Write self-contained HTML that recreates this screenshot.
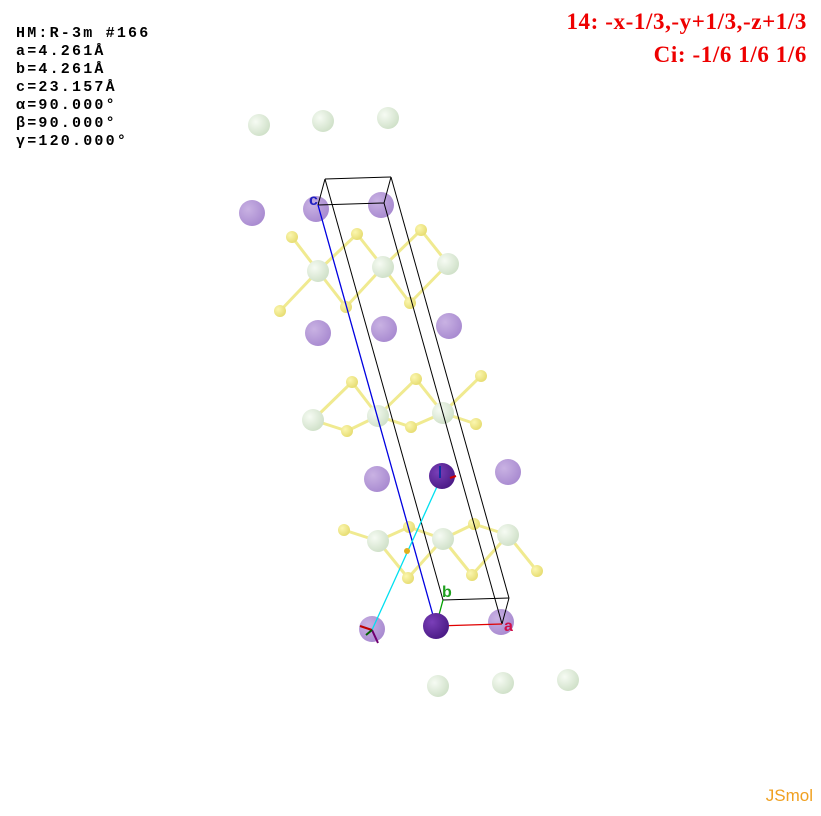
<!DOCTYPE html>
<html><head><meta charset="utf-8"><style>
html,body{margin:0;padding:0;background:#fff;}
#wrap{position:relative;width:821px;height:816px;overflow:hidden;background:#fff;}
.info{position:absolute;left:16px;top:25px;font-family:"Liberation Mono",monospace;font-weight:bold;font-size:15px;letter-spacing:2.2px;line-height:18px;color:#000;}
.sym{position:absolute;right:14px;font-family:"Liberation Serif",serif;font-weight:bold;font-size:23px;letter-spacing:0.6px;color:#e00;text-align:right;}
.jsmol{position:absolute;right:8px;bottom:10px;font-family:"Liberation Sans",sans-serif;font-size:17px;color:#f0a020;}
svg{position:absolute;left:0;top:0;}
</style></head><body>
<div id="wrap">
<div class="info">HM:R-3m #166<br>a=4.261Å<br>b=4.261Å<br>c=23.157Å<br>α=90.000°<br>β=90.000°<br>γ=120.000°</div>
<div class="sym" style="top:9px">14: -x-1/3,-y+1/3,-z+1/3</div>
<div class="sym" style="top:42px">Ci: -1/6 1/6 1/6</div>
<div class="jsmol">JSmol</div>
<svg id="s" width="821" height="816">
<defs>
<radialGradient id="gG" cx="0.35" cy="0.35" r="0.7"><stop offset="0" stop-color="#f6fbf3"/><stop offset="1" stop-color="#cfe0c8"/></radialGradient>
<radialGradient id="gP" cx="0.35" cy="0.35" r="0.7"><stop offset="0" stop-color="#c9b2e3"/><stop offset="1" stop-color="#a88ad0"/></radialGradient>
<radialGradient id="gD" cx="0.35" cy="0.35" r="0.7"><stop offset="0" stop-color="#7a3fb8"/><stop offset="1" stop-color="#4a1a85"/></radialGradient>
<radialGradient id="gY" cx="0.35" cy="0.35" r="0.7"><stop offset="0" stop-color="#fbf6b0"/><stop offset="1" stop-color="#e6dc70"/></radialGradient>
</defs>
</svg>
</div>
<script>
const greenAtoms=[[259,125],[323,121],[388,118],[318,271],[383,267],[448,264],[313,420],[378,416],[443,413],[378,541],[443,539],[508,535],[438,686],[503,683],[568,680]];
const purpleAtoms=[[252,213],[316,209],[381,205],[318,333],[384,329],[449,326],[377,479],[508,472],[372,629],[501,622]];
const darkAtoms=[[442,476],[436,626]];
const yellowAtoms=[[292,237],[357,234],[421,230],[280,311],[346,307],[410,303],[352,382],[416,379],[481,376],[347,431],[411,427],[476,424],[344,530],[409,527],[474,524],[408,578],[472,575],[537,571]];
const NS="http://www.w3.org/2000/svg";
const svg=document.getElementById('s');
function mk(t,a){const e=document.createElementNS(NS,t);for(const k in a)e.setAttribute(k,a[k]);svg.appendChild(e);return e;}
yellowAtoms.forEach(y=>{greenAtoms.forEach(g=>{const d=Math.hypot(y[0]-g[0],y[1]-g[1]);if(d<58){const l=mk('line',{x1:y[0],y1:y[1],x2:g[0],y2:g[1],stroke:'#f0ea90','stroke-width':3});

}});});
function atoms(arr,r,fill,name){arr.forEach(p=>{const c=mk('circle',{cx:p[0],cy:p[1],r:r,fill:fill});

});}
atoms(greenAtoms,11,'url(#gG)','ni-atom');
atoms(purpleAtoms,13,'url(#gP)','na-atom');
atoms(yellowAtoms,6,'url(#gY)','s-atom');
const O=[436,626],A=[66,-2],B=[7,-26],C=[-118,-421];
const add=(...v)=>[v.reduce((s,p)=>s+p[0],0),v.reduce((s,p)=>s+p[1],0)];
const corners={o:O,a:add(O,A),b:add(O,B),ab:add(O,A,B),c:add(O,C),ac:add(O,A,C),bc:add(O,B,C),abc:add(O,A,B,C)};
const edges=[['a','ab'],['b','ab'],['c','ac'],['c','bc'],['ac','abc'],['bc','abc'],['a','ac'],['b','bc'],['ab','abc']];
edges.forEach(e=>{const p=corners[e[0]],q=corners[e[1]];const l=mk('line',{x1:p[0],y1:p[1],x2:q[0],y2:q[1],stroke:'#000','stroke-width':1});

});
const ax=[['a','#e00000'],['b','#00a000'],['c','#0000e0']];
ax.forEach(([k,col])=>{const q=corners[k];const l=mk('line',{x1:O[0],y1:O[1],x2:q[0],y2:q[1],stroke:col,'stroke-width':1.3});

});
const cy=mk('line',{x1:372,y1:630,x2:440,y2:480,stroke:'#00e0f0','stroke-width':1.3});


atoms(darkAtoms,13,'url(#gD)','na-atom-selected');
mk('circle',{cx:407,cy:551,r:3,fill:'#e0b020'});
[['a',504,631,'#d0104a'],['b',442,597,'#20a020'],['c',309,205,'#2020c0']].forEach(([t,x,y,col])=>{const e=mk('text',{x:x,y:y,fill:col,'font-family':'Liberation Sans, sans-serif','font-size':16,'font-weight':'bold'});e.textContent=t;

});
mk('line',{x1:372,y1:630,x2:360,y2:626,stroke:'#c00000','stroke-width':2});
mk('line',{x1:372,y1:630,x2:378,y2:643,stroke:'#700070','stroke-width':2});
mk('line',{x1:372,y1:630,x2:366,y2:635,stroke:'#006000','stroke-width':2});
mk('line',{x1:440,y1:478,x2:440,y2:466,stroke:'#1030a0','stroke-width':2});
mk('line',{x1:450,y1:478,x2:456,y2:476,stroke:'#d00000','stroke-width':2});
</script>
</body></html>
